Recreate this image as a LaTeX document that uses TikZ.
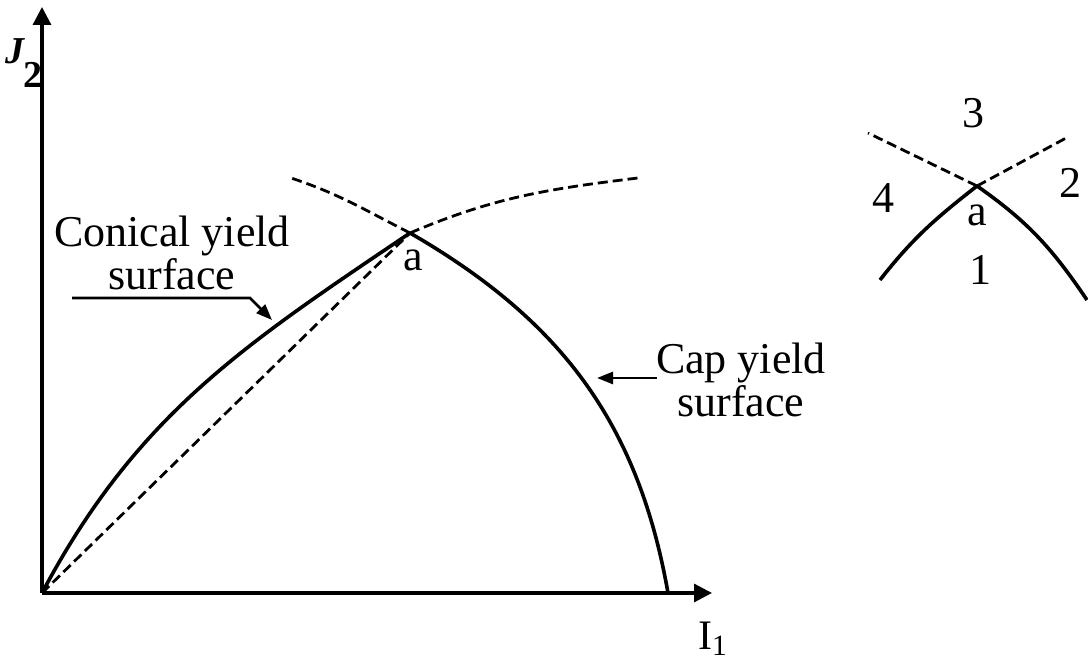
\documentclass[tikz,border=0pt]{standalone}
\usepackage{fontspec}
\setmainfont{Liberation Serif}
\usetikzlibrary{arrows.meta}

\begin{document}
\begin{tikzpicture}[
                x=0.5pt, y=0.5pt,
                axis/.style={line width=1.6pt, -{Triangle[length=9pt, width=9pt]}},
                surf/.style={line width=1.8pt},
                dashline/.style={line width=1.4pt, dash pattern=on 5pt off 2.5pt},
                leader/.style={line width=1.3pt, -{Triangle[length=8pt, width=6pt]}},
                lbl/.style={font=\fontsize{22}{21.5}\selectfont, align=center, inner sep=0pt}
            ]
                \useasboundingbox (0,0) rectangle (1088,667);
                % main picture
                \coordinate (O) at (42,74);
                \coordinate (ytip) at (42,660);
                \coordinate (xtip) at (712,74);
                \coordinate (a) at (410,434);
                \coordinate (capend) at (668,74);
                \coordinate (capdash) at (288,490);
                \coordinate (conedash) at (638,489);
                \draw[axis] (O) -- (ytip);
                \draw[axis] (O) -- (xtip);
                \node[inner sep=0pt] (J2) at (24,604) {\fontsize{19}{19}\selectfont\textit{\textbf{J}}\hspace{-0.05em}\raisebox{-0.62em}{\textbf{2}}};
                \node[inner sep=0pt] (I1) at (713,28) {\fontsize{21}{21}\selectfont I\textsubscript{1}};
                \draw[surf] (O) to[out=62, in=214] (a);
                \draw[surf] (a) to[out=-30, in=100] (capend);
                \draw[dashline] (O) -- (a);
                \draw[dashline] (a) to[out=153, in=-18] (capdash);
                \draw[dashline] (a) to[out=23, in=187] (conedash);
                \node[lbl] (alab) at (413,407) {a};
                % labels with leaders
                \node[lbl] (conical) at (172,414) {Conical yield\\surface};
                \coordinate (cstart) at (72,369);
                \coordinate (cbend) at (250,369);
                \coordinate (ctip) at (272,347);
                \draw[leader] (cstart) -- (cbend) -- (ctip);
                \node[lbl] (cap) at (741,287) {Cap yield\\surface};
                \coordinate (kstart) at (657,289);
                \coordinate (ktip) at (597,289);
                \draw[leader] (kstart) -- (ktip);
                % corner detail
                \coordinate (b) at (977,481);
                \coordinate (bl) at (868,534);
                \coordinate (br) at (1068,530);
                \coordinate (sl) at (880,387);
                \coordinate (sr) at (1087,367);
                \draw[dashline] (b) -- (bl);
                \draw[dashline] (b) -- (br);
                \draw[surf] (b) to[out=218, in=52] (sl);
                \draw[surf] (b) to[out=-35, in=124] (sr);
                \node[lbl] (n3) at (973,554) {3};
                \node[lbl] (n4) at (883,469) {4};
                \node[lbl] (n2) at (1070,484) {2};
                \node[lbl] (blab) at (977,452) {a};
                \node[lbl] (n1) at (980,397) {1};
            \end{tikzpicture}
\end{document}
